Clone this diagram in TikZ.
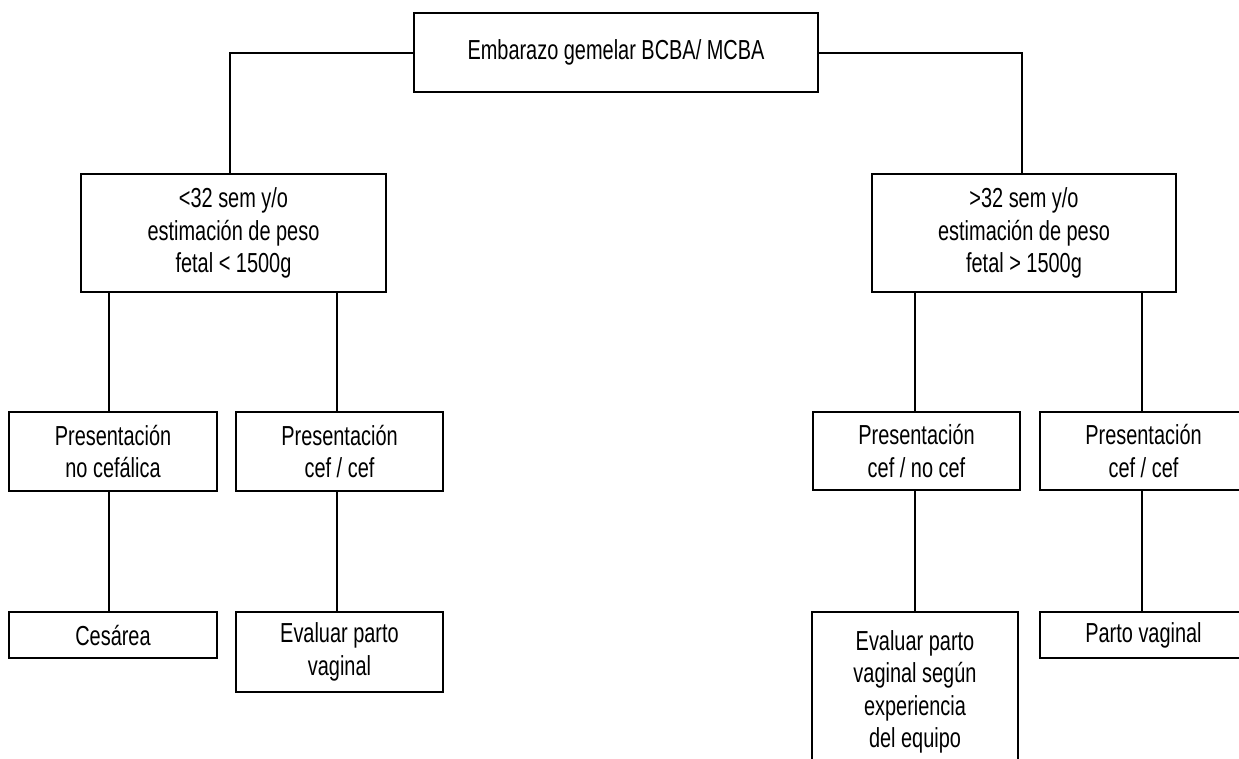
\documentclass[tikz,border=0pt]{standalone}
\usepackage{fontspec}
\setmainfont[FakeStretch=0.725]{Liberation Sans}
\begin{document}
\begin{tikzpicture}[x=1pt,y=-1pt,
  box/.style={draw, line width=2pt, inner sep=0pt, align=center,
    font=\fontsize{27.5}{32.5}\selectfont},
  conn/.style={line width=2pt}]
\useasboundingbox (0,0) rectangle (1239,758);
\clip (0,0) rectangle (1239,758);
% top
\node[box, minimum width=404pt, minimum height=79pt] (top) at (616,52.5) {Embarazo gemelar BCBA/ MCBA};
% middle
\node[box, minimum width=305pt, minimum height=118pt] (lmid) at (233.5,233) {<32 sem y/o\\estimación de peso\\fetal < 1500g};
\node[box, minimum width=304pt, minimum height=118pt] (rmid) at (1024,233) {>32 sem y/o\\estimación de peso\\fetal > 1500g};
% lower row
\node[box, minimum width=208pt, minimum height=79pt] (ll1) at (113,451.5) {Presentación\\no cefálica};
\node[box, minimum width=207pt, minimum height=79pt] (ll2) at (339.5,451.5) {Presentación\\cef / cef};
\node[box, minimum width=207pt, minimum height=78pt] (rl1) at (916.5,451) {Presentación\\cef / no cef};
\node[box, minimum width=207pt, minimum height=78pt] (rl2) at (1143.5,451) {Presentación\\cef / cef};
% bottom row
\node[box, minimum width=208pt, minimum height=46pt] (lb1) at (113,635) {Cesárea};
\node[box, minimum width=207pt, minimum height=80pt] (lb2) at (339.5,652) {Evaluar parto\\vaginal};
\node[box, minimum width=206pt, minimum height=160pt] (rb1) at (915,692) {Evaluar parto\\vaginal según\\experiencia\\del equipo};
\node[box, minimum width=207pt, minimum height=46pt] (rb2) at (1143.5,635) {Parto vaginal};
% connectors
\draw[conn] (top.west) -| ([xshift=-3.5pt]lmid.north);
\draw[conn] (top.east) -| ([xshift=-2pt]rmid.north);
\draw[conn] ([xshift=-4.5pt]ll1.north |- lmid.south) -- ([xshift=-4.5pt]ll1.north);
\draw[conn] ([xshift=-2.5pt]ll2.north |- lmid.south) -- ([xshift=-2.5pt]ll2.north);
\draw[conn] ([xshift=-1.5pt]rl1.north |- rmid.south) -- ([xshift=-1.5pt]rl1.north);
\draw[conn] ([xshift=-1.5pt]rl2.north |- rmid.south) -- ([xshift=-1.5pt]rl2.north);
\draw[conn] ([xshift=-4.5pt]ll1.south) -- ([xshift=-4.5pt]ll1.south |- lb1.north);
\draw[conn] ([xshift=-2.5pt]ll2.south) -- ([xshift=-2.5pt]ll2.south |- lb2.north);
\draw[conn] ([xshift=-1.5pt]rl1.south) -- ([xshift=-1.5pt]rl1.south |- rb1.north);
\draw[conn] ([xshift=-1.5pt]rl2.south) -- ([xshift=-1.5pt]rl2.south |- rb2.north);
\end{tikzpicture}
\end{document}
